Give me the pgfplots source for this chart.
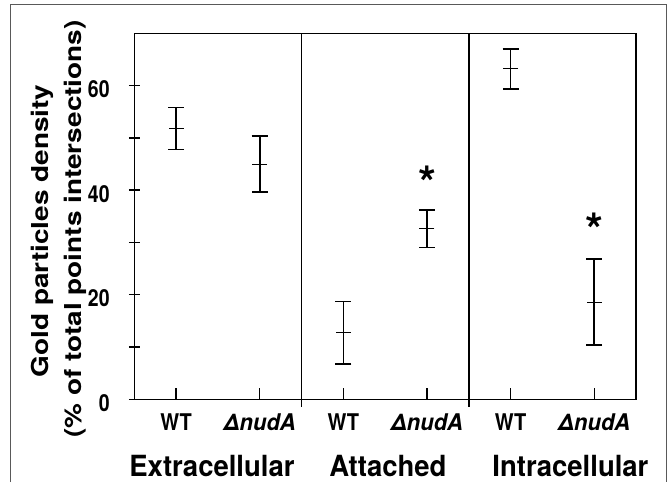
\documentclass[border=0pt]{standalone}
\usepackage{pgfplots}
\pgfplotsset{compat=1.18}
\usepackage{pgfplotstable}
\usepackage{graphicx}
\usepackage{fontspec}
\setmainfont{TeX Gyre Heros}

% mean and half-range of each group (WT, dnudA) x (extra, attached, intra)
\pgfplotstableread{
x mean err
0 51.8 4.0
1 45.0 5.4
2 12.7 6.0
3 32.6 3.6
4 63.2 3.8
5 18.6 8.2
}\golddata

\pgfplotstableread{
x y
3 43.4
5 34.3
}\stars

\newcommand{\wt}{\scalebox{1}[1.15]{WT}}
\newcommand{\dn}{\scalebox{1.1}[1.15]{\itshape ΔnudA}\hspace{23pt}}
\newcommand{\grp}[1]{\scalebox{1}[1.06]{#1}}
\newcommand{\ylab}[1]{\scalebox{1.2}[1]{#1}}

\begin{document}
\begin{tikzpicture}
\useasboundingbox (0pt,0pt) rectangle (668pt,-482pt);
\draw[black!65, line width=0.8pt] (10pt,-482pt) -- (10pt,-4pt) -- (666.7pt,-4pt) -- (666.7pt,-482pt);
\begin{axis}[
    at={(134.3pt,-399.3pt)}, anchor=south west,
    scale only axis, width=501.7pt, height=366pt,
    xmin=-0.5, xmax=5.5, ymin=0, ymax=70,
    clip=false,
    axis line style={line width=1.6pt},
    xtick={0,...,5},
    xticklabels={\wt,\dn,\wt,\dn,\wt,\dn},
    xtick pos=bottom, ytick pos=left,
    ytick={0,20,40,60}, minor ytick={10,30,50},
    xtick align=inside, ytick align=center,
    major tick length=11pt, minor tick length=11pt,
    every tick/.style={black, line width=1.4pt},
    xticklabel style={anchor=base, yshift=-31.4pt, font=\fontsize{20pt}{20pt}\selectfont\bfseries},
    yticklabel style={anchor=east, inner sep=0pt, xshift=-19pt, yshift=-3.5pt, font=\fontsize{19.5pt}{20pt}\selectfont\bfseries},
    yticklabel={\scalebox{1}[1.2]{\pgfmathprintnumber{\tick}}},
    /pgf/number format/assume math mode=true,
]
\addplot[black, only marks, mark=-, mark size=7.5pt, mark options={line width=0.9pt},
    error bars/.cd, y dir=both, y explicit,
    error bar style={line width=1.6pt},
    error mark options={rotate=90, mark size=8pt, line width=1.6pt}]
    table[x=x, y=mean, y error=err] {\golddata};
\addplot[draw=none, mark=none, nodes near coords={*},
    every node near coord/.style={anchor=center, inner sep=0pt, yshift=-10pt,
        font=\fontsize{46pt}{46pt}\selectfont\bfseries}]
    table[x=x, y=y] {\stars};
\draw[line width=1.5pt] (axis cs:1.5,70) -- (axis cs:1.5,0) -- ++(0pt,-8pt);
\draw[line width=1.5pt] (axis cs:3.5,70) -- (axis cs:3.5,0) -- ++(0pt,-8pt);
\node[anchor=base, font=\fontsize{27.5pt}{28pt}\selectfont\bfseries] at (axis cs:0.429,0) [yshift=-76.7pt] {\grp{Extracellular}};
\node[anchor=base, font=\fontsize{27.5pt}{28pt}\selectfont\bfseries] at (axis cs:2.533,0) [yshift=-76.7pt] {\grp{Attached}};
\node[anchor=base, font=\fontsize{27.5pt}{28pt}\selectfont\bfseries] at (axis cs:4.716,0) [yshift=-76.7pt] {\grp{Intracellular}};
\end{axis}
\node[rotate=90, anchor=base, font=\fontsize{23.3pt}{24pt}\selectfont\bfseries] at (48pt,-231pt) {\ylab{Gold particles density}};
\node[rotate=90, anchor=base, font=\fontsize{23.3pt}{24pt}\selectfont\bfseries] at (81pt,-229pt) {\ylab{(\% of total points intersections)}};
\end{tikzpicture}
\end{document}
